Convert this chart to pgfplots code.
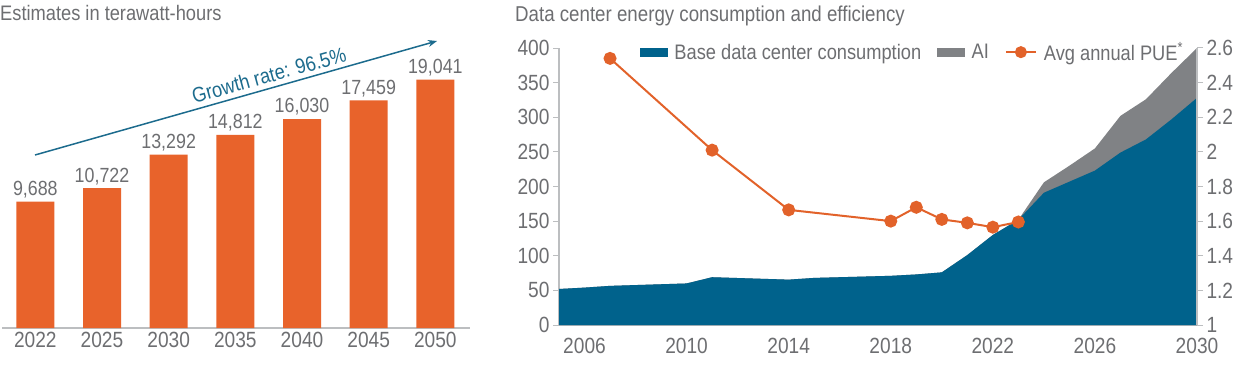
\documentclass[border=0pt]{standalone}
\usepackage{fontspec}
\setmainfont{Liberation Sans}[FakeStretch=0.87]
\usepackage{pgfplots}
\pgfplotsset{compat=1.18}
\usetikzlibrary{arrows.meta}
\definecolor{txt}{HTML}{6D6E71}
\definecolor{barorange}{HTML}{E8632B}
\definecolor{dcblue}{HTML}{00628C}
\definecolor{aigray}{HTML}{808285}
\definecolor{pue}{HTML}{E2622A}
\definecolor{arrowblue}{HTML}{1C6B8D}
\definecolor{axisgray}{HTML}{BCBEC0}
\newcommand{\tf}{\fontsize{22}{24}\selectfont}
\begin{document}
\begin{tikzpicture}[x=1pt,y=1pt]
\useasboundingbox (0,0) rectangle (1239,367);
% ---------------- Left chart
\node[anchor=base west, text=txt, font=\fontsize{21}{24}\selectfont, inner sep=0] at (0,346) {Estimates in terawatt-hours};
\begin{axis}[at={(2pt,39pt)}, anchor=south west, scale only axis, width=468pt, height=288pt,
 xmin=-0.5, xmax=6.52, ymin=0, ymax=22090,
 axis x line*=bottom, axis y line=none,
 x axis line style={axisgray, line width=1.2pt, -},
 xtick=data, xticklabels={2022,2025,2030,2035,2040,2045,2050}, major tick length=0pt,
 tick label style={font=\tf, text=txt}, xticklabel style={yshift=-1pt},
 /pgf/number format/assume math mode=true,
 ybar, bar width=38pt,
 nodes near coords,
 nodes near coords style={font=\fontsize{20.5}{23}\selectfont, text=txt, /pgf/number format/1000 sep={,}, /pgf/number format/assume math mode=true},
]
\addplot[fill=barorange, draw=none] coordinates {(0,9688) (1,10722) (2,13292) (3,14812) (4,16030) (5,17459) (6,19041)};
\end{axis}
\draw[arrowblue, line width=1.5pt, -{Stealth[length=9pt,width=7pt]}] (35,212) -- (437,326);
\node[rotate=15.5, text=arrowblue, font=\fontsize{21}{23}\selectfont, inner sep=0] at (269,292) {Growth rate: 96.5\%};
% ---------------- Right chart
\node[anchor=base west, text=txt, font=\fontsize{21.5}{24}\selectfont, inner sep=0] at (515,345) {Data center energy consumption and efficiency};
\begin{axis}[at={(559pt,42pt)}, anchor=south west, scale only axis, width=638pt, height=277pt,
 xmin=2005, xmax=2030, ymin=0, ymax=400,
 axis x line*=bottom, axis y line*=left,
 axis line style={axisgray, line width=1.2pt, -},
 xtick={2006,2010,2014,2018,2022,2026,2030}, ytick={0,50,...,400},
 tick align=outside, major tick length=6pt, tick style={axisgray, line width=1pt},
 xtick style={draw=none},
 tick label style={font=\tf, text=txt},
 xticklabel style={yshift=-4pt},
 /pgf/number format/1000 sep={},
 /pgf/number format/assume math mode=true,
]
\addplot[fill=aigray, draw=none] coordinates {(2005,52) (2006,54) (2007,56.5) (2010,60) (2011,69) (2014,65.5) (2015,68) (2018,71) (2019,73) (2020,76) (2021,101) (2022,130) (2023,152) (2024,206) (2025,230) (2026,255) (2027,302) (2028,326) (2029,364) (2030,400)} \closedcycle;
\addplot[fill=dcblue, draw=none] coordinates {(2005,52) (2006,54) (2007,56.5) (2010,60) (2011,69) (2014,65.5) (2015,68) (2018,71) (2019,73) (2020,76) (2021,101) (2022,130) (2023,152) (2024,191) (2025,207) (2026,223) (2027,249) (2028,268) (2029,297) (2030,328)} \closedcycle;
\end{axis}
\begin{axis}[at={(559pt,42pt)}, anchor=south west, scale only axis, width=638pt, height=277pt,
 xmin=2005, xmax=2030, ymin=1, ymax=2.6,
 axis x line=none, axis y line*=right,
 axis line style={axisgray, line width=1.2pt, -},
 ytick={1,1.2,1.4,1.6,1.8,2,2.2,2.4,2.6},
 tick align=outside, major tick length=6pt, tick style={axisgray, line width=1pt},
 tick label style={font=\tf, text=txt},
 /pgf/number format/assume math mode=true,
 legend style={at={(0.122,0.985)}, anchor=west, draw=none, fill=none, font=\fontsize{21}{24}\selectfont, text=txt,
   /tikz/every odd column/.append style={column sep=5pt},
   /tikz/every even column/.append style={column sep=14pt}},
 legend columns=3, legend cell align=left,
]
\addlegendimage{legend image code/.code={\fill[dcblue] (0pt,-4pt) rectangle (27pt,4pt);}}
\addlegendentry{Base data center consumption}
\addlegendimage{legend image code/.code={\fill[aigray] (0pt,-4pt) rectangle (27pt,4pt);}}
\addlegendentry{AI}
\addplot[pue, line width=2pt, mark=*, mark size=5.5pt, mark options={fill=pue, draw=pue},
  legend image code/.code={\draw[pue, line width=2pt] (0pt,0pt) -- (30pt,0pt); \fill[pue] (15pt,0pt) circle (5pt);}]
 coordinates {(2007,2.54) (2011,2.01) (2014,1.665) (2018,1.60) (2019,1.68) (2020,1.61) (2021,1.59) (2022,1.565) (2023,1.595)};
\addlegendentry{Avg annual PUE\textsuperscript{*}}
\end{axis}
\end{tikzpicture}
\end{document}
